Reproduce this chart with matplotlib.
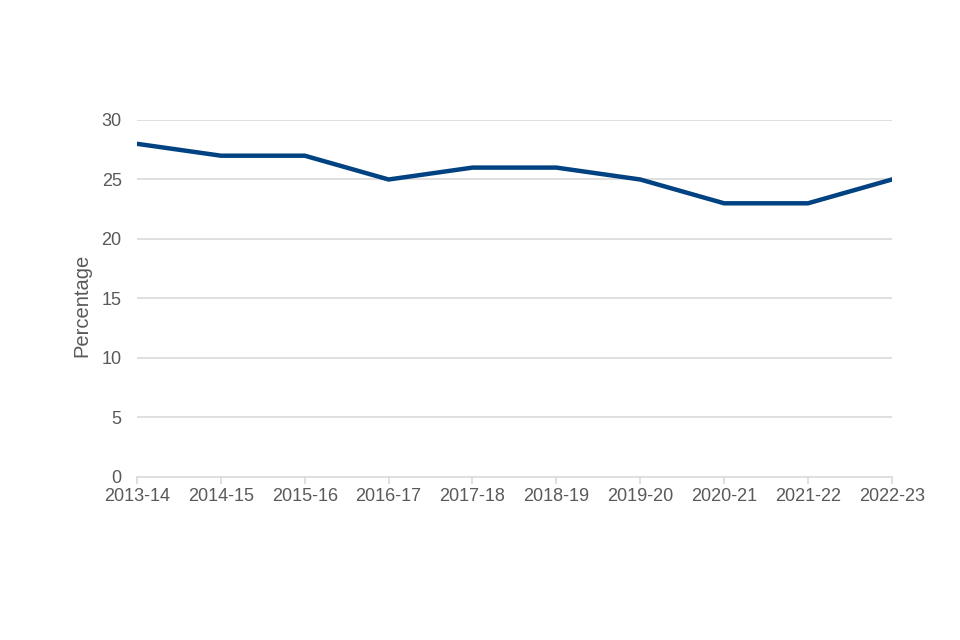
import matplotlib
matplotlib.use("Agg")
import matplotlib.pyplot as plt

years = ["2013-14", "2014-15", "2015-16", "2016-17", "2017-18",
         "2018-19", "2019-20", "2020-21", "2021-22", "2022-23"]
percentage = [28, 27, 27, 25, 26, 26, 25, 23, 23, 25]
y_ticks = [0, 5, 10, 15, 20, 25, 30]

plt.rcParams['font.family'] = ['Liberation Sans', 'DejaVu Sans']
text_color = '#595959'
grid_color = '#d9d9d9'

fig = plt.figure(figsize=(9.6, 6.4), dpi=100)
ax = fig.add_axes([0.1427, 0.2547, 0.929 - 0.1427, 0.8125 - 0.2547])

x = list(range(len(years)))
ax.plot(x, percentage, color='#004282', linewidth=3.2, solid_joinstyle='round', zorder=3)

ax.set_xlim(0, len(years) - 1)
ax.set_ylim(0, 30)
ax.set_yticks(y_ticks)
ax.set_yticklabels([str(v) for v in y_ticks])
ax.set_xticks(x)
ax.set_xticklabels(years)

for v in y_ticks[1:]:
    ax.axhline(v, color=grid_color, linewidth=1.2, zorder=1)

for s in ['top', 'right', 'left']:
    ax.spines[s].set_visible(False)
ax.spines['bottom'].set_color(grid_color)
ax.spines['bottom'].set_linewidth(1.2)

ax.tick_params(axis='y', length=0, pad=11, labelsize=13, labelcolor=text_color)
ax.tick_params(axis='x', length=5, width=1.2, color=grid_color, pad=3,
               labelsize=13, labelcolor=text_color)

ax.set_ylabel("Percentage", fontsize=14.5, color=text_color)
ax.yaxis.set_label_coords(-0.061, 0.48)

fig.savefig("out.png", dpi=100, facecolor='white')
